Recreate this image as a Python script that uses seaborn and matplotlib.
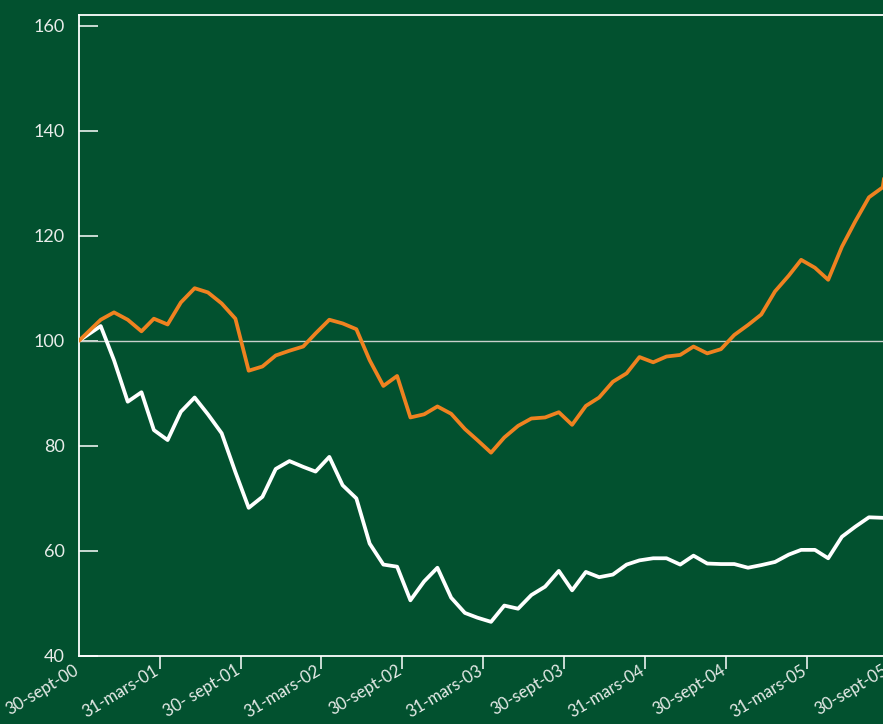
import matplotlib

matplotlib.use("Agg")
import matplotlib.pyplot as plt
import matplotlib.dates as mdates
import matplotlib.transforms as mtransforms
import pandas as pd
import seaborn as sns

# monthly observations (mid-month), plus the 30-sept start and end points
dates = (
    [pd.Timestamp("2000-09-30")]
    + list(pd.date_range("2000-11-01", periods=59, freq="MS") + pd.Timedelta(days=17))
    + [pd.Timestamp("2005-09-30")]
)

orange_values = [
    100.0, 104.0, 105.4, 104.0, 101.8, 104.2, 103.1, 107.3, 110.0, 109.2,
    107.1, 104.2, 94.3, 95.1, 97.2, 98.1, 98.9, 101.4, 104.0, 103.3,
    102.2, 96.3, 91.4, 93.3, 85.4, 86.0, 87.5, 86.1, 83.2, 81.1,
    78.7, 81.6, 83.8, 85.2, 85.4, 86.4, 84.0, 87.6, 89.2, 92.2,
    93.8, 96.9, 95.9, 97.0, 97.3, 98.9, 97.6, 98.4, 101.1, 103.0,
    105.0, 109.4, 112.4, 115.4, 113.9, 111.6, 117.9, 122.7, 127.3, 129.2,
    136.0,
]

white_values = [
    100.0, 102.8, 96.3, 88.4, 90.2, 83.0, 81.1, 86.5, 89.2, 86.0,
    82.4, 75.0, 68.2, 70.3, 75.6, 77.1, 76.0, 75.1, 77.9, 72.5,
    70.0, 61.4, 57.4, 57.0, 50.6, 54.2, 56.8, 51.1, 48.2, 47.3,
    46.5, 49.6, 49.0, 51.6, 53.2, 56.2, 52.5, 56.0, 55.0, 55.5,
    57.4, 58.2, 58.6, 58.6, 57.4, 59.1, 57.6, 57.5, 57.5, 56.8,
    57.3, 57.9, 59.3, 60.2, 60.2, 58.6, 62.7, 64.6, 66.4, 66.3,
    66.3,
]

tick_dates = [
    "2000-09-30", "2001-03-31", "2001-09-30", "2002-03-31", "2002-09-30",
    "2003-03-31", "2003-09-30", "2004-03-31", "2004-09-30", "2005-03-31",
    "2005-09-30",
]
tick_labels = [
    "30-sept-00", "31-mars-01", "30- sept-01", "31-mars-02", "30-sept-02",
    "31-mars-03", "30-sept-03", "31-mars-04", "30-sept-04", "31-mars-05",
    "30-sept-05",
]
y_ticks = [40, 60, 80, 100, 120, 140, 160]

BG = "#02512f"
ORANGE = "#ef8220"
TEXT = "#e8ece9"

sns.set_theme(style="white")
plt.rcParams["font.family"] = ["Lato", "DejaVu Sans"]

df = pd.DataFrame({"date": dates, "orange": orange_values, "white": white_values})

fig = plt.figure(figsize=(8.83, 7.24), dpi=100, facecolor=BG)
ax = fig.add_axes([79 / 883, 68 / 724, 809 / 883, 641 / 724])
ax.set_facecolor(BG)

ax.axhline(100, color="#c9cfcb", linewidth=1.0, zorder=1)
sns.lineplot(data=df, x="date", y="white", color="white", linewidth=2.7, ax=ax, zorder=3)
sns.lineplot(data=df, x="date", y="orange", color=ORANGE, linewidth=2.7, ax=ax, zorder=4)

ax.set_xlim(pd.Timestamp("2000-09-30"), pd.Timestamp("2005-09-30"))
ax.set_ylim(40, 162)
ax.set_xlabel("")
ax.set_ylabel("")

ax.set_yticks(y_ticks)
ax.set_yticklabels([str(v) for v in y_ticks])
ax.set_xticks([mdates.date2num(pd.Timestamp(d)) for d in tick_dates])
ax.set_xticklabels(tick_labels)

ax.tick_params(axis="y", direction="in", length=14, width=1.1, color="white",
               labelcolor=TEXT, labelsize=13, pad=10, left=True)
ax.tick_params(axis="x", direction="out", length=9, width=1.1, color="white",
               labelcolor=TEXT, labelsize=12, pad=-1, bottom=True)
ax.xaxis.get_major_ticks()[0].tick1line.set_visible(False)

# nudge the slanted date labels so they end just left of their tick
shift = mtransforms.ScaledTranslation(-2 / 100, -2 / 100, fig.dpi_scale_trans)
for lbl in ax.get_xticklabels():
    lbl.set_rotation(31)
    lbl.set_ha("right")
    lbl.set_va("center")
    lbl.set_rotation_mode("anchor")
    lbl.set_transform(lbl.get_transform() + shift)

for side in ["left", "bottom", "top", "right"]:
    ax.spines[side].set_color("white")
    ax.spines[side].set_linewidth(1.3)
ax.grid(False)

fig.savefig("out.png", dpi=100, facecolor=BG)
plt.close(fig)
